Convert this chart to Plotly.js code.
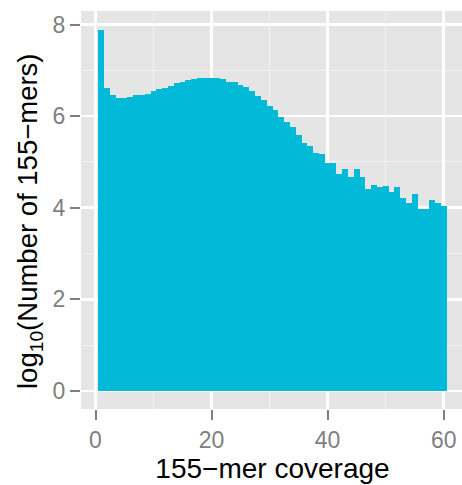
<!DOCTYPE html>
<html>
<head>
<meta charset="utf-8">
<script src="https://cdn.plot.ly/plotly-3.0.1.min.js"></script>
<style>
  html, body { margin: 0; padding: 0; overflow: hidden; background: #fff; }
  #chart { width: 464px; height: 485px; }
</style>
</head>
<body>
<div id="chart"></div>
<script>
// Coverage bins (one bin per integer coverage value)
const coverage = [
  1, 2, 3, 4, 5, 6, 7, 8, 9, 10,
  11, 12, 13, 14, 15, 16, 17, 18, 19, 20,
  21, 22, 23, 24, 25, 26, 27, 28, 29, 30,
  31, 32, 33, 34, 35, 36, 37, 38, 39, 40,
  41, 42, 43, 44, 45, 46, 47, 48, 49, 50,
  51, 52, 53, 54, 55, 56, 57, 58, 59, 60
];

// log10 of the number of 155-mers in each coverage bin
const log10Count = [
  7.89, 6.61, 6.46, 6.39, 6.39, 6.41, 6.46, 6.46, 6.48, 6.54,
  6.59, 6.61, 6.65, 6.72, 6.74, 6.78, 6.80, 6.83, 6.83, 6.83,
  6.83, 6.80, 6.74, 6.74, 6.67, 6.63, 6.54, 6.43, 6.35, 6.22,
  6.13, 5.98, 5.87, 5.76, 5.58, 5.41, 5.34, 5.19, 5.17, 4.97,
  4.97, 4.73, 4.84, 4.67, 4.84, 4.67, 4.41, 4.49, 4.45, 4.47,
  4.34, 4.45, 4.21, 4.10, 4.30, 3.97, 3.97, 4.17, 4.10, 4.03
];

const xTicks = [0, 20, 40, 60];
const yTicks = [0, 2, 4, 6, 8];

const xTitle = '155\u2212mer coverage';
const yTitle = 'log<sub>10</sub>(Number of 155\u2212mers)';

const tickGrey = '#7F7F7F';
const fontFamily = 'Liberation Sans, Arial, sans-serif';

const trace = {
  type: 'bar',
  x: coverage,
  y: log10Count,
  width: 1,
  marker: { color: '#00BAD8', line: { width: 0 } },
  hoverinfo: 'x+y'
};

const axisCommon = {
  showline: false,
  zeroline: false,
  showgrid: true,
  gridcolor: '#FFFFFF',
  gridwidth: 2.5,
  ticks: 'outside',
  ticklen: 10,
  tickwidth: 2,
  tickcolor: tickGrey,
  tickfont: { family: fontFamily, size: 23, color: tickGrey },
  automargin: false,
  fixedrange: true
};

const layout = {
  width: 464,
  height: 485,
  margin: { l: 81, r: 0, t: 11, b: 76 },
  paper_bgcolor: '#FFFFFF',
  plot_bgcolor: '#E5E5E5',
  bargap: 0,
  showlegend: false,
  font: { family: fontFamily },
  xaxis: Object.assign({}, axisCommon, {
    range: [-2.5, 63.5],
    tickvals: xTicks,
    ticktext: xTicks.map(String),
    minor: { dtick: 10, tick0: 0, showgrid: true, gridcolor: '#F2F2F2', gridwidth: 1, ticks: '' },
    title: {
      text: xTitle,
      font: { size: 28, color: '#000000' },
      standoff: 1
    }
  }),
  yaxis: Object.assign({}, axisCommon, {
    range: [-0.395, 8.295],
    tickvals: yTicks,
    ticktext: yTicks.map(String),
    minor: { dtick: 1, tick0: 0, showgrid: true, gridcolor: '#F2F2F2', gridwidth: 1, ticks: '' }
  }),
  // y-axis title, placed as a rotated annotation beside the panel
  annotations: [{
    text: yTitle,
    textangle: -90,
    xref: 'paper', yref: 'paper',
    x: 0, y: 0.5,
    xanchor: 'center', yanchor: 'middle',
    xshift: -52,
    yshift: -11,
    showarrow: false,
    font: { family: fontFamily, size: 27.5, color: '#000000' }
  }]
};

Plotly.newPlot('chart', [trace], layout, { displayModeBar: false, staticPlot: true });
</script>
</body>
</html>
